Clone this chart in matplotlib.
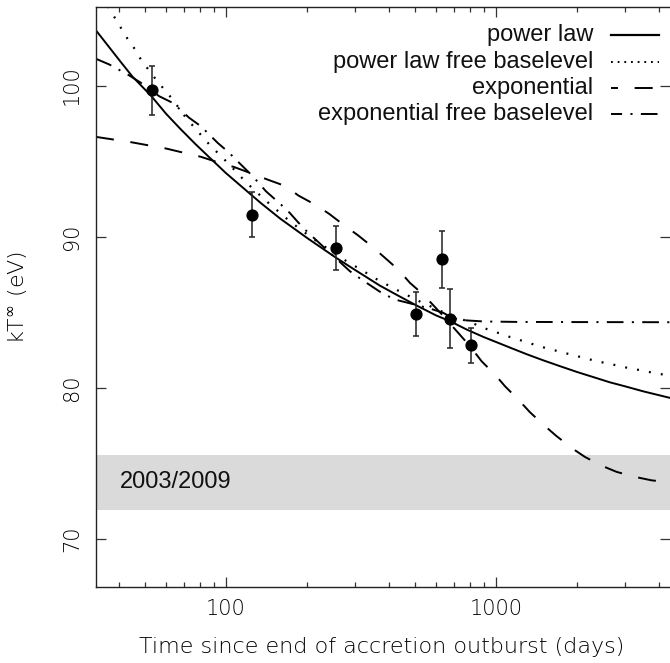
#!/usr/bin/env python3
"""Cooling curve of kT-infinity after the end of the accretion outburst,
with four fitted decay models and the 2003/2009 quiescent level."""

import matplotlib

matplotlib.use("Agg")
import matplotlib.pyplot as plt
from matplotlib.lines import Line2D
from matplotlib.ticker import FixedLocator, LogLocator, NullFormatter

# observed temperatures
obs_days = [53.1, 124.5, 255.5, 504, 632.6, 673.8, 810]
obs_kt = [99.69, 91.46, 89.23, 84.88, 88.50, 84.57, 82.80]
obs_err = [1.63, 1.49, 1.47, 1.48, 1.90, 1.94, 1.15]

# model curves
power_days = [33.0, 40.8, 45, 52.9, 60, 67.6, 77, 87.3, 100, 115.3, 135,
              158.5, 200, 255.5, 300, 371.8, 430, 500, 600, 675.5, 780, 900,
              1127, 1300, 1500, 1726, 2000, 2300, 2643, 3000, 3500, 4410]
power_kt = [103.65, 101.55, 100.6, 99.3, 98.13, 97.15, 96.13, 95.2, 94.2,
            93.25, 92.2, 91.2, 89.9, 88.6, 87.8, 86.75, 86.13, 85.5, 84.78,
            84.4, 83.84, 83.35, 82.65, 82.21, 81.8, 81.42, 81.03, 80.69,
            80.35, 80.09, 79.76, 79.32]

plfree_days = [36.5, 40.8, 43.2, 46.1, 48.4, 55.0, 63.5, 71.1, 86.7, 101.5,
               118.6, 140, 172.6, 207.7, 229.3, 271.9, 327.2, 356.3, 428.8,
               515.5, 650, 835.9, 923.7, 1028, 1127, 1256, 1383, 1541, 1701,
               1891, 2095, 2312, 2570, 2855, 3155, 3494, 3881, 4410]
plfree_kt = [105.25, 103.82, 103.09, 102.38, 101.72, 100.40, 99.07, 97.86,
             96.1, 94.88, 93.6, 92.4, 91.0, 89.92, 89.4, 88.5, 87.65, 87.24,
             86.47, 85.75, 84.93, 84.2, 83.88, 83.6, 83.35, 83.09, 82.85,
             82.6, 82.41, 82.19, 81.99, 81.79, 81.61, 81.44, 81.26, 81.13,
             80.95, 80.8]

exp_days = [33.0, 44.5, 52.0, 60.0, 70.1, 80.8, 93.2, 107.3, 125.6, 142.7,
            166.8, 185.3, 213.6, 241.3, 271.9, 309, 346.4, 388.1, 434.6,
            480.3, 538, 630, 725, 801, 885, 991.5, 1080, 1209, 1336, 1497,
            1668, 1907, 2136, 2463, 2799, 3272, 3773, 4410]
exp_kt = [96.6, 96.25, 96.03, 95.83, 95.54, 95.28, 94.92, 94.6, 94.15, 93.77,
          93.33, 92.72, 92.12, 91.5, 90.79, 90.07, 89.36, 88.59, 87.81,
          86.93, 86.16, 84.85, 83.62, 82.74, 81.74, 80.86, 80.09, 79.21,
          78.37, 77.55, 76.82, 76.0, 75.41, 74.83, 74.42, 74.09, 73.86, 73.73]

expfree_days = [33.0, 37.0, 43.9, 48.4, 56.6, 63.5, 73.1, 80.8, 93.2, 102.9,
                107.3, 125.6, 140.6, 159.8, 172.6, 185.3, 199.1, 240, 288,
                318.1, 377.3, 422.6, 500, 578, 638, 693, 779, 900, 1200,
                2000, 4410]
expfree_kt = [101.77, 101.39, 100.66, 100.18, 99.29, 98.85, 97.86, 97.30,
              96.2, 95.54, 95.2, 94.0, 93.0, 92.12, 91.55, 90.93, 90.35,
              89.0, 87.7, 87.15, 86.27, 85.83, 85.5, 85.2, 84.95, 84.6,
              84.45, 84.38, 84.35, 84.34, 84.33]

# quiescent level 2003/2009
band_lo, band_hi = 71.92, 75.56
band_label = "2003/2009"

legend_labels = ["power law", "power law free baselevel", "exponential",
                 "exponential free baselevel"]

W, H = 670, 663
THIN = dict(family="DejaVu Sans", fontweight="light")
SANS = "Liberation Sans"


def _fx(px):
    return px / W


def _fy(py):
    return 1 - py / H


def main():
    plt.rcParams["lines.scale_dashes"] = False
    fig = plt.figure(figsize=(W / 100, H / 100), dpi=100)
    ax = fig.add_axes([_fx(96), _fy(587), _fx(574), 580 / H])

    ax.set_xscale("log")
    ax.set_xlim(33.0, 4410)
    ax.set_ylim(66.8, 105.2)

    ax.axhspan(band_lo, band_hi, color="#dadada", lw=0, zorder=0)
    ax.text(40.5, 73.36, band_label, fontsize=17, family=SANS, color="#111111",
            ha="left", va="baseline")

    styles = [
        dict(ls="-", lw=1.4),
        dict(ls=(0, (1.4, 7.3)), lw=1.6),
        dict(ls=(0, (13, 12)), lw=1.4),
        dict(ls=(0, (12, 6, 1.5, 6)), lw=1.4),
    ]
    curves = [(power_days, power_kt), (plfree_days, plfree_kt),
              (exp_days, exp_kt), (expfree_days, expfree_kt)]
    for (x, y), st in zip(curves, styles):
        ax.plot(x, y, color="black", zorder=2, **st)

    ax.errorbar(obs_days, obs_kt, yerr=obs_err, fmt="o", color="black",
                ms=7.8, ecolor="#222222", elinewidth=1.1, capsize=2.3,
                capthick=1.1, zorder=3)

    # axes decoration
    ax.spines["right"].set_visible(False)
    for side in ("left", "top", "bottom"):
        ax.spines[side].set_linewidth(1.0)
        ax.spines[side].set_color("#222222")
    ax.xaxis.set_major_locator(FixedLocator([100, 1000]))
    ax.xaxis.set_minor_locator(LogLocator(base=10, subs=range(2, 10)))
    ax.xaxis.set_minor_formatter(NullFormatter())
    ax.set_xticklabels(["100", "1000"])
    ax.yaxis.set_major_locator(FixedLocator([70, 80, 90, 100]))
    ax.set_yticklabels(["70", "80", "90", "100"])
    ax.tick_params(which="both", direction="in", top=True, right=True,
                   color="#333333", width=0.9)
    ax.tick_params(which="major", length=7.5)
    ax.tick_params(which="minor", length=3.8)
    ax.tick_params(axis="x", pad=8.5, labelsize=15, labelcolor="black")
    ax.tick_params(axis="y", pad=10, labelsize=15, labelcolor="black")
    for lbl in ax.get_xticklabels() + ax.get_yticklabels():
        lbl.set_fontfamily(THIN["family"])
        lbl.set_fontweight(THIN["fontweight"])
    for lbl in ax.get_yticklabels():
        lbl.set_rotation(90)
        lbl.set_va("center")

    ax.set_xlabel("Time since end of accretion outburst (days)", fontsize=16,
                  color="black", **THIN)
    ax.xaxis.set_label_coords(0.497, -0.086)
    ax.set_ylabel(r"kT$^{\infty}$ (eV)", fontsize=16, color="black", **THIN)
    ax.yaxis.set_label_coords(-0.115, 0.5)

    # legend drawn by hand: text right-aligned, sample on the right
    row_y = [35, 61.5, 87.5, 113.5]
    leg_styles = [
        dict(ls="-", lw=1.6),
        dict(ls=(0, (1.3, 3.5)), lw=1.4),
        dict(ls=(8, (13, 12)), lw=1.4),
        dict(ls=(4, (12, 6, 1.5, 6)), lw=1.4),
    ]
    for label, yy, st in zip(legend_labels, row_y, leg_styles):
        fig.text(_fx(593), _fy(yy + 6.5), label, fontsize=17, family=SANS,
                 color="#111111", ha="right", va="baseline")
        fig.add_artist(Line2D([_fx(611), _fx(659)], [_fy(yy), _fy(yy)],
                              color="black", transform=fig.transFigure, **st))

    fig.savefig("out.png", dpi=100, facecolor="white")
    plt.close(fig)


if __name__ == "__main__":
    main()
